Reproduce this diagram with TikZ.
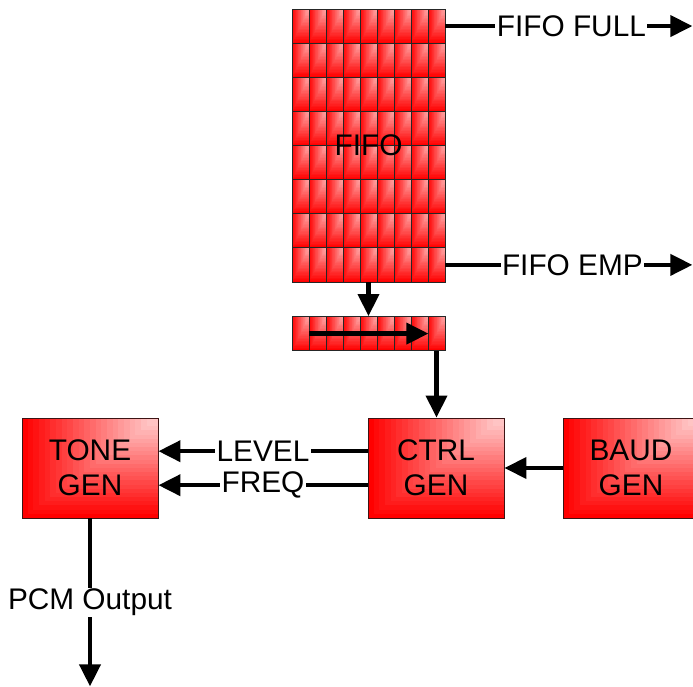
\documentclass[tikz,border=0pt]{standalone}
\usepackage{fontspec}
\setmainfont{Liberation Sans}
\usepackage{xcolor}
\usetikzlibrary{arrows.meta,calc}
\definecolor{boxline}{RGB}{60,20,20}

\tikzset{
  bands/.style={path picture={
    \foreach \k [evaluate=\k as \pc using int(100-#1*\k)] in {1,...,22}
      \fill[red!\pc!white] ($(path picture bounding box.south west)!\k/24!(path picture bounding box.north east)$) rectangle (path picture bounding box.north east);
  }},
}

\begin{document}
\begin{tikzpicture}[
  font=\fontsize{21.2}{24.9}\selectfont,
  box/.style={draw=boxline, fill=red, bands=3.5, rectangle, minimum width=3.4cm, minimum height=2.5cm, align=center, line width=0.6pt, inner sep=0pt},
  cell/.style={draw=black!85, fill=red, bands=2.8, rectangle, minimum width=0.425cm, minimum height=0.853cm, inner sep=0pt, line width=0.6pt},
  lbl/.style={fill=white, inner sep=1pt},
  >={Triangle[length=0.55cm, width=0.52cm]},
  arrline/.style={->, line width=0.11cm},
]
\useasboundingbox (0,0) rectangle (17.325,17.15);

% ============ FIFO grid (9 x 8 cells) ============
\foreach \c in {1,...,9}
  \foreach \r in {1,...,8}
    \node[cell] (fifo-\c-\r) at ({7.3+(\c-0.5)*0.425}, {16.925-(\r-0.5)*0.853}) {};
\node (fifo) at (9.2125,13.5125) {FIFO};

% ============ shift register below the FIFO ============
\foreach \c in {1,...,9}
  \node[cell] (sreg-\c) at ({7.3+(\c-0.5)*0.425}, 8.81) {};

% ============ generator boxes ============
\node[box] (tone) at (2.25,5.45) {TONE\\GEN};
\node[box] (ctrl) at (10.9,5.45) {CTRL\\GEN};
\node[box] (baud) at (15.775,5.45) {BAUD\\GEN};

% ============ free ends at the picture edge ============
\coordinate (fullEnd) at ($(fifo-9-1.east)+(6.175,0)$);
\coordinate (emptyEnd) at ($(fifo-9-8.east)+(6.175,0)$);
\coordinate (pcmEnd) at ($(tone.south)+(0,-4.2)$);

% ===================== ARROWS =====================

% status flags out of the FIFO
\draw[arrline] (fifo-9-1.east) -- node[lbl, pos=0.51] {FIFO FULL} (fullEnd);
\draw[arrline] (fifo-9-8.east) -- node[lbl, pos=0.514] {FIFO EMP} (emptyEnd);

% FIFO -> shift register
\draw[arrline] (fifo-5-8.south) -- (sreg-5.north);

% shift direction inside the register
\draw[arrline] (sreg-1.east) -- (sreg-8.east);

% shift register -> CTRL GEN
\draw[arrline] (sreg-9.south) -- (sreg-9.south |- ctrl.north);

% BAUD GEN -> CTRL GEN
\draw[arrline] (baud.west) -- (ctrl.east);

% CTRL GEN -> TONE GEN (level and frequency)
\draw[arrline] ([yshift=0.42cm]ctrl.west) -- node[lbl] {LEVEL} ([yshift=0.42cm]tone.east);
\draw[arrline] ([yshift=-0.43cm]ctrl.west) -- node[lbl] {FREQ} ([yshift=-0.43cm]tone.east);

% TONE GEN output
\draw[arrline] (tone.south) -- node[lbl] {PCM Output} (pcmEnd);

\end{tikzpicture}
\end{document}
